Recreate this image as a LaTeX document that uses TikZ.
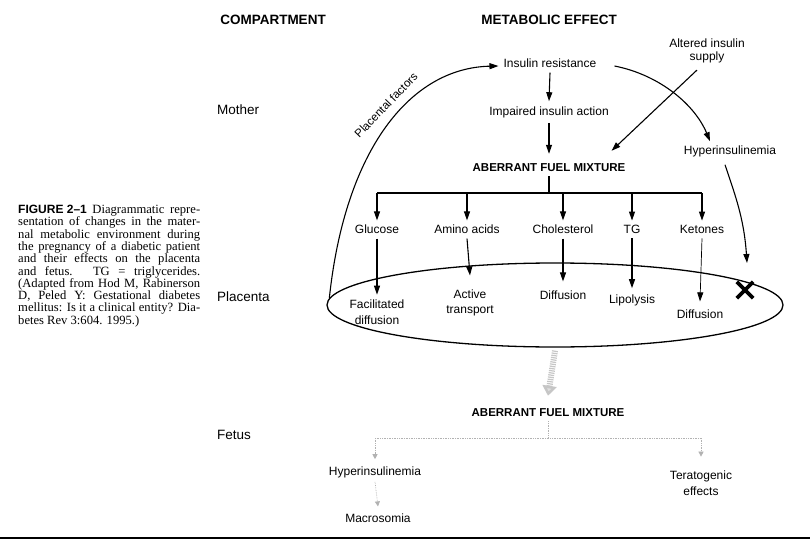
\documentclass[tikz,border=0pt]{standalone}
\usepackage{fontspec}
\setmainfont{Liberation Sans}
\newfontfamily\capserif{Liberation Serif}
\usetikzlibrary{arrows.meta,shapes.geometric}
\begin{document}
\begin{tikzpicture}[x=1pt,y=-1pt,
  lbl/.style={font=\fontsize{12}{15.5}\selectfont, inner sep=2pt, align=center},
  hdr/.style={font=\bfseries\fontsize{11.5}{14}\selectfont, inner sep=2pt},
  title/.style={font=\bfseries\fontsize{13.5}{16}\selectfont, inner sep=2pt},
  comp/.style={font=\fontsize{13.5}{16}\selectfont, inner sep=2pt, anchor=west},
  arr/.style={line width=1.1pt, -{Triangle[length=9pt,width=6pt]}},
  thinarr/.style={line width=0.7pt, -{Triangle[length=9pt,width=6pt]}},
  dotline/.style={gray!60, line width=0.7pt, densely dotted},
  dotarr/.style={gray!60, line width=0.7pt, densely dotted, -{Triangle[length=5pt,width=5pt]}},
  bigarr/.style={gray!45, line width=6pt, dash pattern=on 1.2pt off 1pt, -{Triangle[length=10pt,width=14pt,fill=gray!25]}}
]
\useasboundingbox (0,0) rectangle (810,540);

% headings
\node[title] (tcomp) at (273,20) {COMPARTMENT};
\node[title] (tmet) at (549,20) {METABOLIC EFFECT};

% compartments
\node[comp] (mother) at (215,110) {Mother};
\node[comp] (placenta) at (215,297) {Placenta};
\node[comp] (fetus) at (215,435) {Fetus};

% caption
\node[anchor=north west, inner sep=0pt] (cap) at (18,205) {\parbox{182pt}{\capserif\fontsize{12.6}{12.3}\selectfont
\makebox[182pt][s]{\mbox{\fontspec{Liberation Sans}\bfseries\fontsize{12}{12}\selectfont FIGURE 2–1} Diagrammatic repre-}\\
\makebox[182pt][s]{sentation of changes in the mater-}\\
\makebox[182pt][s]{nal metabolic environment during}\\
\makebox[182pt][s]{the pregnancy of a diabetic patient}\\
\makebox[182pt][s]{and their effects on the placenta}\\
\makebox[182pt][s]{and fetus. TG = triglycerides.}\\
\makebox[182pt][s]{(Adapted from Hod M, Rabinerson}\\
\makebox[182pt][s]{D, Peled Y: Gestational diabetes}\\
\makebox[182pt][s]{mellitus: Is it a clinical entity? Dia-}\\
betes Rev 3:604. 1995.)}};

% mother level
\node[lbl] (ir) at (550,63) {Insulin resistance};
\node[lbl] (iia) at (549,112) {Impaired insulin action};
\node[lbl] (ais) at (707,51) {Altered insulin\\[-3pt]supply};
\node[lbl] (hyp) at (730,151) {Hyperinsulinemia};
\node[hdr] (afm) at (549,168) {ABERRANT FUEL MIXTURE};

\draw[arr] ([yshift=-3pt]ir.south) -- ([yshift=3pt]iia.north);
\draw[arr] ([yshift=-3pt]iia.south) -- ([yshift=8pt]afm.north);
\draw[arr] ([xshift=-10pt,yshift=-5pt]ais.south) -- ([xshift=-16pt,yshift=11pt]afm.north east);
\draw[arr] ([xshift=16pt,yshift=-3pt]ir.east) .. controls (660,75) and (695,105) .. ([xshift=-20pt,yshift=2pt]hyp.north);

% fuels
\node[lbl] (glu) at (377,229) {Glucose};
\node[lbl] (ami) at (467,229) {Amino acids};
\node[lbl] (cho) at (563,229) {Cholesterol};
\node[lbl] (tg) at (632,229) {TG};
\node[lbl] (ket) at (702,229) {Ketones};

\coordinate (br) at (549,193);
\draw[line width=1.1pt] ([yshift=-2pt]afm.south) -- (br);
\draw[line width=1.1pt] (glu.north |- br) -- (ket.north |- br);
\foreach \n in {glu,ami,cho,tg,ket}
  \draw[arr] (\n.north |- br) -- ([yshift=2pt]\n.north);

% placenta
\node[draw, ellipse, line width=1.3pt, minimum width=456pt, minimum height=84pt, inner sep=0pt] (plac) at (555,305) {};

\node[lbl] (fd) at (377,312) {Facilitated\\diffusion};
\node[lbl] (at) at (470,303) {Active\\transport};
\node[lbl] (dif1) at (563,295) {Diffusion};
\node[lbl] (lip) at (632,300) {Lipolysis};
\node[lbl] (dif2) at (700,314) {Diffusion};

\draw[arr] ([yshift=-3pt]glu.south) -- ([yshift=3pt]fd.north);
\draw[arr] ([yshift=-3pt]ami.south) -- ([yshift=12pt]at.north);
\draw[arr] ([yshift=-3pt]cho.south) -- ([yshift=7pt]dif1.north);
\draw[arr] ([yshift=-3pt]tg.south) -- ([yshift=4pt]lip.north);
\draw[thinarr] ([yshift=-3pt]ket.south) -- ([yshift=6pt]dif2.north);

% blocked hyperinsulinemia
\node[inner sep=0pt, minimum size=16pt] (xm) at (745,290) {};
\draw[line width=3.8pt] (xm.north west) -- (xm.south east);
\draw[line width=3.8pt] (xm.south west) -- (xm.north east);
\draw[arr] ([xshift=-5pt,yshift=-6pt]hyp.south) .. controls +(10,30) and +(-3,-45) .. ([xshift=2pt,yshift=27pt]xm.center);

% placental factors
\draw[arr] ([xshift=3pt,yshift=7pt]plac.west) .. controls (345,150) and (410,68) .. ([xshift=-3pt,yshift=-3pt]ir.west);
\node[font=\fontsize{11.5}{13}\selectfont, rotate=46] (pf) at (386,105) {Placental factors};

% fetus
\node[hdr] (afm2) at (548,413) {ABERRANT FUEL MIXTURE};
\draw[bigarr] ([yshift=-3pt]plac.south) -- ([yshift=11pt]afm2.north);

\node[lbl] (hyp2) at (375,472) {Hyperinsulinemia};
\node[lbl] (mac) at (378,518) {Macrosomia};
\node[lbl] (ter) at (701,483) {Teratogenic\\effects};

\coordinate (fb) at (548,438);
\draw[dotline] ([yshift=-2pt]afm2.south) -- (fb);
\draw[dotline] (hyp2.north |- fb) -- (ter.north |- fb);
\draw[dotarr] (hyp2.north |- fb) -- ([yshift=5pt]hyp2.north);
\draw[dotarr] (ter.north |- fb) -- ([yshift=12pt]ter.north);
\draw[dotarr] ([yshift=-2pt]hyp2.south) -- ([yshift=5pt]mac.north);

% bottom rule
\coordinate (rl) at (0,538);
\coordinate (rr) at (810,538);
\draw[line width=1.2pt] (rl) -- (rr);
\end{tikzpicture}
\end{document}
